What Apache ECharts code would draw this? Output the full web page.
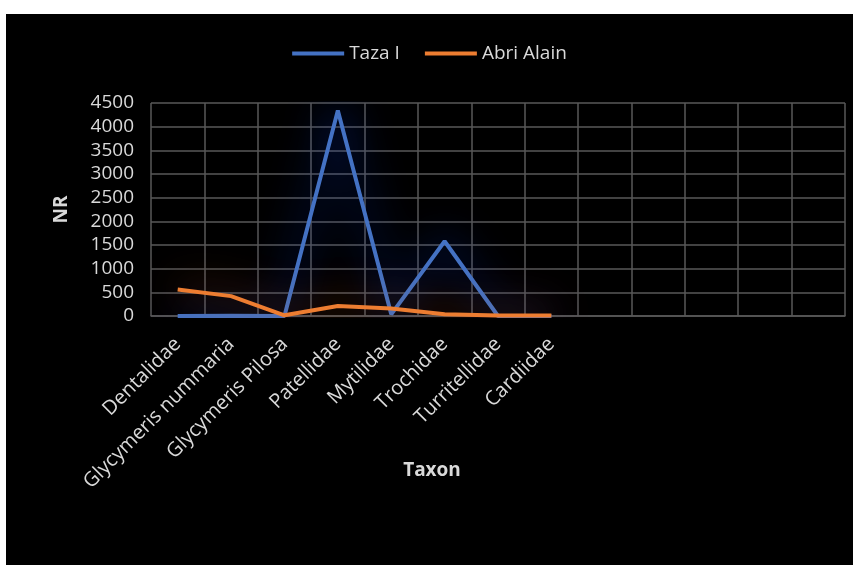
<!DOCTYPE html>
<html>
<head>
<meta charset="utf-8">
<script src="https://cdn.jsdelivr.net/npm/echarts@6/dist/echarts.min.js"></script>
<style>
  html, body { margin: 0; padding: 0; background: #ffffff; }
  #chart { position: absolute; left: 6px; top: 14px; width: 847px; height: 551px; background: #000000; }
</style>
</head>
<body>
<div id="chart"></div>
<script>
// categories (last 5 columns are empty in the original sheet)
var taxa = ['Dentalidae', 'Glycymeris nummaria', 'Glycymeris Pilosa', 'Patellidae',
            'Mytilidae', 'Trochidae', 'Turritellidae', 'Cardiidae', '', '', '', '', ''];
var tazaI = [0, 5, 0, 4340, 35, 1580, 0, 0];
var abriAlain = [560, 420, 15, 210, 160, 35, 10, 10];
var seriesNames = ['Taza I', 'Abri Alain'];

var font = 'Open Sans';
var textColor = '#d9d9d9';
var gridColor = '#595959';

var chart = echarts.init(document.getElementById('chart'));
var option = {
    backgroundColor: '#000000',
    animation: false,
    textStyle: { fontFamily: font, color: textColor },
    legend: {
        top: 25,
        left: 'center',
        icon: 'rect',
        itemWidth: 52,
        itemHeight: 4,
        itemGap: 25,
        textStyle: { color: textColor, fontSize: 19, fontFamily: font },
        data: seriesNames
    },
    grid: { left: 145, top: 89, width: 694, height: 213 },
    xAxis: {
        type: 'category',
        data: taxa,
        boundaryGap: true,
        name: 'Taxon',
        nameLocation: 'middle',
        nameGap: 145,
        nameMoveOverlap: false,
        nameTextStyle: { color: textColor, fontSize: 19, fontWeight: 'bold', padding: [0, 132, 0, 0] },
        axisLine: { show: true, lineStyle: { color: gridColor, width: 1.5 } },
        axisTick: { show: false },
        axisLabel: { interval: 0, rotate: 45, color: textColor, fontSize: 20, margin: 25 },
        splitLine: { show: true, interval: 0, lineStyle: { color: gridColor, width: 1.5 } }
    },
    yAxis: {
        type: 'value',
        min: 0,
        max: 4500,
        interval: 500,
        name: 'NR',
        nameLocation: 'middle',
        nameRotate: 90,
        nameGap: 80,
        nameMoveOverlap: false,
        nameTextStyle: { color: textColor, fontSize: 19, fontWeight: 'bold' },
        axisLine: { show: false },
        axisTick: { show: false },
        axisLabel: { color: textColor, fontSize: 19, margin: 17, formatter: function (v) { return String(v); } },
        splitLine: { lineStyle: { color: gridColor, width: 1.5 } }
    },
    series: [
        {
            name: seriesNames[0],
            type: 'line',
            data: tazaI,
            symbol: 'none',
            color: '#4472C4',
            lineStyle: { width: 4, color: '#4472C4', shadowBlur: 40, shadowColor: 'rgba(10,60,220,1)' }
        },
        {
            name: seriesNames[1],
            type: 'line',
            data: abriAlain,
            symbol: 'none',
            color: '#ED7D31',
            lineStyle: { width: 4, color: '#ED7D31', shadowBlur: 40, shadowColor: 'rgba(220,90,10,0.9)' }
        }
    ]
};
chart.setOption(option);
</script>
</body>
</html>
